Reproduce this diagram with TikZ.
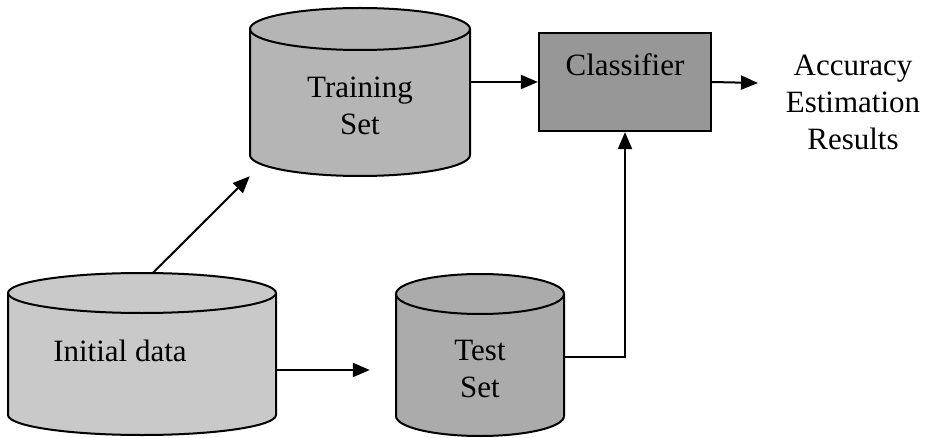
\documentclass[tikz,border=0pt]{standalone}
\usepackage{fontspec}
\setmainfont{Liberation Serif}
\usetikzlibrary{arrows.meta}

\definecolor{initfill}{HTML}{C9C9C9}
\definecolor{trainfill}{HTML}{B5B5B5}
\definecolor{testfill}{HTML}{ABABAB}
\definecolor{clffill}{HTML}{979797}

% drum-shaped data store: name, centre x, top y, bottom y, x radius, y radius, fill
\newcommand{\drumshape}[7]{%
  \fill[#7] (#2-#5,-#3) -- (#2-#5,-#4)
    arc[start angle=180,end angle=360,x radius=#5,y radius=#6]
    -- (#2+#5,-#3)
    arc[start angle=0,end angle=180,x radius=#5,y radius=#6] -- cycle;
  \draw[outline] (#2-#5,-#3) -- (#2-#5,-#4)
    arc[start angle=180,end angle=360,x radius=#5,y radius=#6]
    -- (#2+#5,-#3);
  \draw[outline] (#2,-#3) ellipse[x radius=#5,y radius=#6];
  \node[inner sep=0pt, minimum width={2*#5}, minimum height={#4-#3+2*#6}]
    (#1) at (#2,{-(#3+#4)/2}) {};
}

\tikzset{
  outline/.style={draw=black, line width=2pt},
  arr/.style={line width=2pt, -{Triangle[length=17pt,width=14pt]}},
  label text/.style={font=\fontsize{31}{37}\selectfont, align=center, inner sep=0pt},
  boxnode/.style={draw=black, line width=2.2pt, fill=clffill,
    minimum width=172pt, minimum height=98pt, inner sep=0pt}
}

\begin{document}
\begin{tikzpicture}[x=1pt,y=1pt]
  \useasboundingbox (0,0) rectangle (928,-438);
  \fill[white] (0,0) rectangle (928,-438);

  % data stores
  \drumshape{train}{360}{29}{155}{110}{21}{trainfill}
  \drumshape{init}{142}{293}{415}{134}{20}{initfill}
  \drumshape{test}{480}{294}{416}{84}{20}{testfill}

  % classifier
  \node[boxnode] (clf) at (625,-82) {};

  % texts
  \node[label text] (traintext) at (360,-106) {Training\\Set};
  \node[label text] (inittext) at (120,-351) {Initial data};
  \node[label text] (testtext) at (480,-369) {Test\\Set};
  \node[label text] (clftext) at (625,-65) {Classifier};
  \node[label text] (acc) at (853,-102) {Accuracy\\Estimation\\Results};

  \coordinate (acctip) at (758,-83);

  % connectors
  \draw[arr] ([xshift=11pt]init.north) -- (train.south west);
  \draw[arr] ([yshift=-16pt]init.east) -- ([xshift=-26pt,yshift=-15pt]test.west);
  \draw[arr] (train.east |- clf.west) -- (clf.west);
  \draw[arr] (clf.east) -- (acctip);
  \draw[arr] ([yshift=-2pt]test.east) -| (clf.south);
\end{tikzpicture}
\end{document}
